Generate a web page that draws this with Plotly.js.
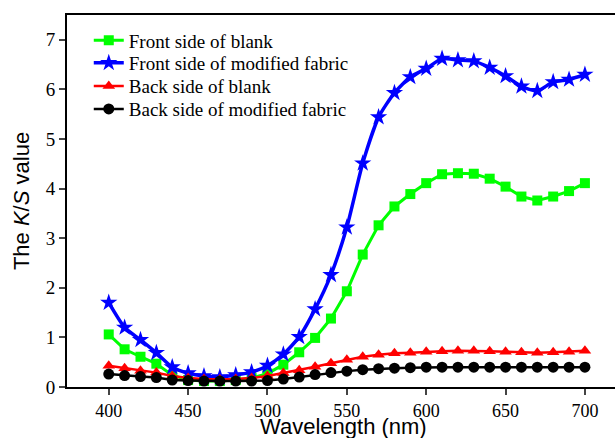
<!DOCTYPE html>
<html>
<head>
<meta charset="utf-8">
<script src="https://cdn.plot.ly/plotly-3.0.1.min.js"></script>
<style>
html,body{margin:0;padding:0;width:615px;height:438px;overflow:hidden;background:#fff;}
#chart{width:640px;height:438px;}
</style>
</head>
<body>
<div id="chart"></div>
<script>
// Wavelength (nm)
const wavelength = [400,410,420,430,440,450,460,470,480,490,500,510,520,530,540,550,560,570,580,590,600,610,620,630,640,650,660,670,680,690,700];
// K/S values
const frontBlank = [1.06,0.76,0.61,0.47,0.24,0.14,0.12,0.12,0.14,0.18,0.27,0.45,0.70,0.99,1.38,1.93,2.67,3.26,3.64,3.89,4.11,4.29,4.31,4.30,4.20,4.04,3.84,3.76,3.84,3.95,4.11];
const frontModified = [1.70,1.20,0.95,0.69,0.40,0.28,0.22,0.20,0.24,0.30,0.43,0.66,1.01,1.57,2.26,3.22,4.51,5.44,5.93,6.25,6.42,6.62,6.59,6.57,6.44,6.27,6.06,5.97,6.15,6.20,6.30];
const backBlank = [0.43,0.38,0.33,0.29,0.22,0.18,0.16,0.15,0.16,0.18,0.22,0.28,0.34,0.41,0.48,0.55,0.61,0.65,0.68,0.69,0.71,0.72,0.73,0.73,0.72,0.71,0.70,0.69,0.70,0.71,0.73];
const backModified = [0.26,0.23,0.21,0.19,0.14,0.13,0.12,0.12,0.12,0.12,0.13,0.16,0.20,0.25,0.29,0.32,0.35,0.37,0.38,0.39,0.40,0.40,0.40,0.40,0.40,0.40,0.40,0.40,0.40,0.40,0.40];
const seriesNames = ["Front side of blank","Front side of modified fabric","Back side of blank","Back side of modified fabric"];
const xTicks = [400,450,500,550,600,650,700];
const yTicks = [0,1,2,3,4,5,6,7];
const xTitle = 'Wavelength (nm)';
const yTitle = 'The <i>K</i>/<i>S</i> value';

const legendIds = ['legend','legend2','legend3','legend4'];
const traces = [
  {x: wavelength, y: frontBlank, name: seriesNames[0], mode: 'lines+markers',
   line: {color: '#00ff00', width: 3}, marker: {symbol: 'square', size: 10, color: '#00ff00'}},
  {x: wavelength, y: frontModified, name: seriesNames[1], mode: 'lines+markers',
   line: {color: '#0000ff', width: 3.5, shape: 'spline', smoothing: 0.6}, marker: {symbol: 'star', size: 13, color: '#0000ff'}},
  {x: wavelength, y: backBlank, name: seriesNames[2], mode: 'lines+markers',
   line: {color: '#ff0000', width: 2.5}, marker: {symbol: 'triangle-up', size: 11, color: '#ff0000'}},
  {x: wavelength, y: backModified, name: seriesNames[3], mode: 'lines+markers',
   line: {color: '#000000', width: 2.5}, marker: {symbol: 'circle', size: 11, color: '#000000'}}
].map((t, i) => Object.assign(t, {cliponaxis: false, legend: legendIds[i]}));

const serif = 'Liberation Serif, Times New Roman, serif';
const sans = 'Liberation Sans, Arial, sans-serif';
const legendFont = {family: serif, size: 19, color: '#000'};
const legendRowsY = [0.932, 0.871, 0.809, 0.747];
const layout = {
  width: 640, height: 438,
  margin: {l: 67, r: 0, t: 15, b: 51},
  paper_bgcolor: '#fff', plot_bgcolor: '#fff',
  showlegend: true,
  xaxis: {range: [373.7, 734.7], tickvals: xTicks, ticks: 'outside', ticklen: 6, tickwidth: 2,
    showline: true, linewidth: 2, linecolor: '#000', mirror: true, showgrid: false, zeroline: false,
    tickfont: {family: serif, size: 18, color: '#000'}},
  yaxis: {range: [0, 7.5], tickvals: yTicks, ticks: 'outside', ticklen: 6, tickwidth: 2,
    showline: true, linewidth: 2, linecolor: '#000', mirror: true, showgrid: false, zeroline: false,
    tickfont: {family: serif, size: 19, color: '#000'},
    title: {text: yTitle, font: {family: sans, size: 22, color: '#000'}, standoff: 10}},
  annotations: [{text: xTitle, xref: 'paper', yref: 'paper', x: 0.482, y: -0.107,
    xanchor: 'center', yanchor: 'middle', showarrow: false,
    font: {family: sans, size: 22, color: '#000'}}]
};
legendIds.forEach((id, i) => {
  layout[id] = {x: 0.038, y: legendRowsY[i], xanchor: 'left', yanchor: 'middle',
    font: legendFont, bgcolor: 'rgba(0,0,0,0)', borderwidth: 0};
});

Plotly.newPlot('chart', traces, layout, {displayModeBar: false, staticPlot: true});
</script>
</body>
</html>
